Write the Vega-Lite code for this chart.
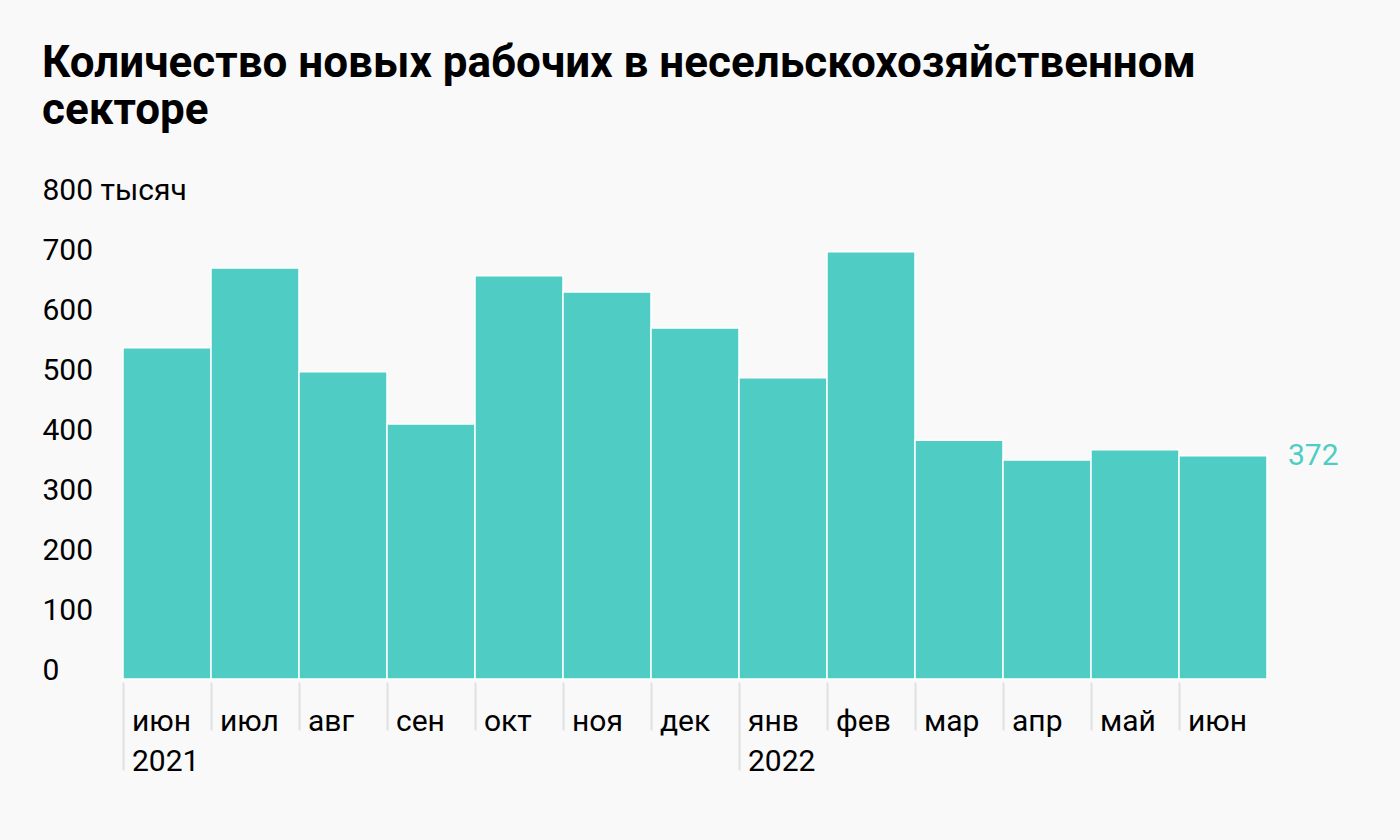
{
  "$schema": "https://vega.github.io/schema/vega-lite/v6.json",
  "width": 1144,
  "height": 480,
  "autosize": {"type": "none"},
  "padding": {"left": 123, "top": 199, "right": 133, "bottom": 161},
  "background": "#f9f9f9",
  "title": {
    "text": ["Количество новых рабочих в несельскохозяйственном", "секторе"],
    "anchor": "start",
    "frame": "group",
    "dx": -81,
    "font": "Roboto",
    "fontSize": 44,
    "fontWeight": "bold",
    "lineHeight": 47,
    "color": "#000000",
    "offset": 42
  },
  "config": {"view": {"stroke": null}, "font": "Roboto"},
  "data": {
    "values": [
      {"month": "июн 2021", "value": 552},
      {"month": "июл", "value": 685},
      {"month": "авг", "value": 512},
      {"month": "сен", "value": 425},
      {"month": "окт", "value": 672},
      {"month": "ноя", "value": 645},
      {"month": "дек", "value": 585},
      {"month": "янв 2022", "value": 502},
      {"month": "фев", "value": 712},
      {"month": "мар", "value": 398},
      {"month": "апр", "value": 365},
      {"month": "май", "value": 382},
      {"month": "июн", "value": 372}
    ]
  },
  "layer": [
    {
      "mark": {"type": "bar", "color": "#4fcdc4", "stroke": "#ffffff", "strokeWidth": 1.5},
      "encoding": {
        "x": {
          "field": "month",
          "type": "ordinal",
          "sort": null,
          "scale": {"paddingInner": 0, "paddingOuter": 0},
          "axis": {
            "title": null,
            "domain": false,
            "grid": false,
            "bandPosition": 0,
            "offset": 3,
            "ticks": true,
            "tickColor": "#e0e0e0",
            "tickWidth": 2,
            "tickSize": {"condition": {"test": "indexof(datum.value, ' ') > 0", "value": 88}, "value": 48},
            "labelExpr": "split(datum.value, ' ')",
            "labelAlign": "left",
            "labelBaseline": "alphabetic",
            "labelOffset": -35,
            "labelPadding": {"condition": {"test": "indexof(datum.value, ' ') > 0", "value": -40}, "value": 0},
            "labelAngle": 0,
            "labelFont": "Roboto",
            "labelFontSize": 30,
            "labelColor": "#000000",
            "labelLineHeight": 40,
            "labelOverlap": false
          }
        },
        "y": {
          "field": "value",
          "type": "quantitative",
          "scale": {"domain": [0, 800]},
          "axis": {
            "title": null,
            "values": [0, 100, 200, 300, 400, 500, 600, 700, 800],
            "labelExpr": "datum.value == 800 ? '800 тысяч' : datum.label",
            "domain": false,
            "grid": false,
            "ticks": false,
            "labelAlign": "left",
            "labelBaseline": "alphabetic",
            "labelPadding": 81,
            "labelFont": "Roboto",
            "labelFontSize": 30,
            "labelColor": "#000000",
            "labelOverlap": false
          }
        }
      }
    },
    {
      "transform": [{"filter": "datum.month == 'июн'"}],
      "mark": {"type": "text", "align": "left", "baseline": "middle", "dx": 65, "fontSize": 30, "font": "Roboto", "color": "#4fcdc4"},
      "encoding": {
        "x": {"field": "month", "type": "ordinal", "sort": null},
        "y": {"field": "value", "type": "quantitative"},
        "text": {"field": "value", "type": "quantitative"}
      }
    }
  ]
}
